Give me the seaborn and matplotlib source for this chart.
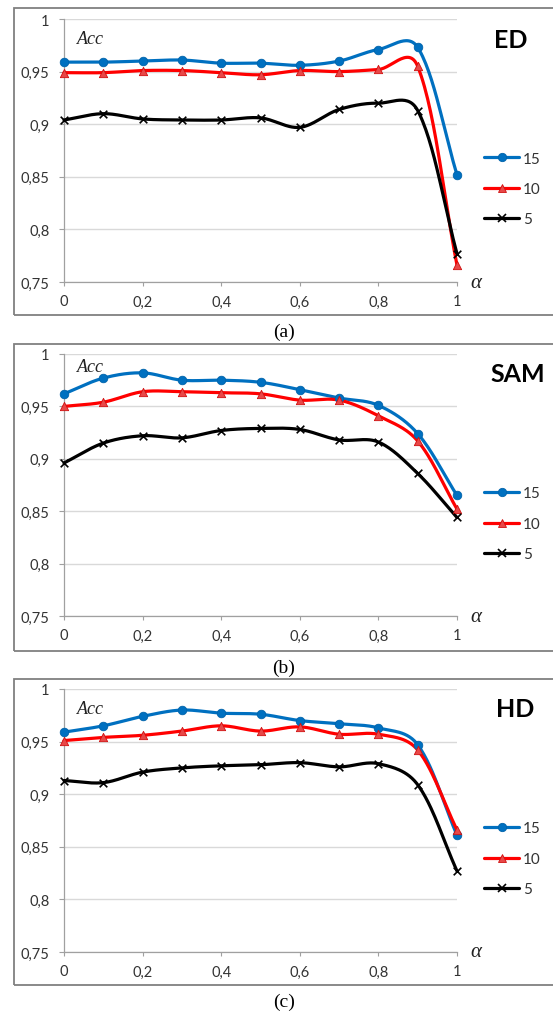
import numpy as np
import pandas as pd
import matplotlib
matplotlib.use("Agg")
import matplotlib.pyplot as plt
import seaborn as sns
from matplotlib.patches import Rectangle
from matplotlib.lines import Line2D

# ---------------- data ----------------
alpha_vals = [0.0, 0.1, 0.2, 0.3, 0.4, 0.5, 0.6, 0.7, 0.8, 0.9, 1.0]
series_labels = ["15", "10", "5"]

ed_15 = [0.959, 0.959, 0.960, 0.961, 0.958, 0.958, 0.956, 0.960, 0.971, 0.973, 0.852]
ed_10 = [0.949, 0.949, 0.951, 0.951, 0.949, 0.947, 0.951, 0.950, 0.952, 0.955, 0.766]
ed_5 = [0.904, 0.910, 0.905, 0.904, 0.904, 0.906, 0.897, 0.914, 0.920, 0.913, 0.777]

sam_15 = [0.962, 0.977, 0.982, 0.975, 0.975, 0.973, 0.966, 0.958, 0.951, 0.924, 0.865]
sam_10 = [0.950, 0.954, 0.964, 0.964, 0.963, 0.962, 0.956, 0.956, 0.941, 0.917, 0.852]
sam_5 = [0.896, 0.915, 0.922, 0.920, 0.927, 0.929, 0.928, 0.918, 0.916, 0.886, 0.844]

hd_15 = [0.959, 0.965, 0.974, 0.980, 0.977, 0.976, 0.970, 0.967, 0.963, 0.947, 0.861]
hd_10 = [0.951, 0.954, 0.956, 0.960, 0.965, 0.960, 0.964, 0.957, 0.957, 0.942, 0.866]
hd_5 = [0.913, 0.911, 0.921, 0.925, 0.927, 0.928, 0.930, 0.926, 0.929, 0.909, 0.827]

panel_titles = ["ED", "SAM", "HD"]
panel_captions = ["(a)", "(b)", "(c)"]
x_ticks = [0, 0.2, 0.4, 0.6, 0.8, 1.0]
x_ticklabels = ["0", "0,2", "0,4", "0,6", "0,8", "1"]
y_ticks = [0.75, 0.80, 0.85, 0.90, 0.95, 1.0]
y_ticklabels = ["0,75", "0,8", "0,85", "0,9", "0,95", "1"]

panel_data = [(ed_15, ed_10, ed_5), (sam_15, sam_10, sam_5), (hd_15, hd_10, hd_5)]

# ---------------- style ----------------
sns.set_style("white")
plt.rcParams["font.family"] = ["Lato", "DejaVu Sans"]

W, H = 553, 1012
fig = plt.figure(figsize=(W / 100, H / 100), dpi=100)


def fx(px):
    return px / W


def fy(py):
    return 1 - py / H


def smooth(x, y, sx, sy, n=30):
    """Excel-like smoothed path (partly length-weighted Bezier), computed in pixel space."""
    P = np.column_stack([np.asarray(x, float), np.asarray(y, float)])
    S = np.array([sx, sy])
    Q = P * S
    m = len(Q)
    d = np.linalg.norm(np.diff(Q, axis=0), axis=1)
    T = np.zeros_like(Q)
    T[0] = Q[1] - Q[0]
    T[-1] = Q[-1] - Q[-2]
    for i in range(1, m - 1):
        T[i] = Q[i + 1] - Q[i - 1]
    out = []
    for i in range(m - 1):
        p1, p2 = Q[i], Q[i + 1]
        if i == 0:
            c1 = p1 + T[0] / 3
        else:
            w = 0.5 / 6 + 0.5 * d[i] / (d[i - 1] + d[i]) / 3
            c1 = p1 + T[i] * w
        if i == m - 2:
            c2 = p2 - T[-1] / 3
        else:
            w = 0.5 / 6 + 0.5 * d[i] / (d[i] + d[i + 1]) / 3
            c2 = p2 - T[i + 1] * w
        t = np.linspace(0, 1, n, endpoint=(i == m - 2))[:, None]
        b = (1 - t) ** 3 * p1 + 3 * (1 - t) ** 2 * t * c1 + 3 * (1 - t) * t ** 2 * c2 + t ** 3 * p2
        out.append(b)
    return np.vstack(out) / S


colors = ["#0070C0", "#FF0000", "#000000"]
markers = ["o", "^", "x"]
mfc = ["#0070C0", "#E84848", "#000000"]
mec = ["#0063AA", "#D01010", "#000000"]
msize = [38, 36, 30]

tops = [20, 355, 690]
bottoms = [283, 617, 953]
box_tops = [9, 345, 680]
box_bottoms = [316, 652, 986]
caption_y = [332, 668, 1002]
acc_y = [40, 368, 710]
title_x = [494, 490, 496]
axis_color = "#A0A0A0"
text_color = "#333333"

for k in range(3):
    top, bot = tops[k], bottoms[k]
    # border box
    fig.patches.append(Rectangle((fx(14), fy(box_bottoms[k])), fx(600) - fx(14),
                                 fy(box_tops[k]) - fy(box_bottoms[k]),
                                 transform=fig.transFigure, fill=False,
                                 edgecolor="#808080", lw=1.3, zorder=0))
    ax = fig.add_axes([fx(64), fy(bot), fx(457) - fx(64), fy(top) - fy(bot)])
    ax.set_facecolor("none")
    sx = 457 - 64
    sy = (bot - top) / 0.25
    handles = []
    for s in range(3):
        yv = panel_data[k][s]
        curve = smooth(alpha_vals, yv, sx, sy)
        dfc = pd.DataFrame({"x": curve[:, 0], "y": curve[:, 1]})
        sns.lineplot(data=dfc, x="x", y="y", ax=ax, sort=False, color=colors[s],
                     lw=2.3, zorder=3 + s, clip_on=False)
        dfp = pd.DataFrame({"x": alpha_vals, "y": yv})
        if markers[s] == "x":
            sns.scatterplot(data=dfp, x="x", y="y", ax=ax, marker="x", s=msize[s],
                            color=colors[s], linewidth=1.2, zorder=6 + s, clip_on=False)
        else:
            sns.scatterplot(data=dfp, x="x", y="y", ax=ax, marker=markers[s], s=msize[s],
                            color=mfc[s], edgecolor=mec[s], linewidth=0.6,
                            zorder=6 + s, clip_on=False)
        handles.append(Line2D([], [], color=colors[s], lw=2.3, marker=markers[s],
                              markersize=6 if s < 2 else 5.5, markerfacecolor=mfc[s],
                              markeredgecolor=mec[s], markeredgewidth=0.6 if s < 2 else 1.2))
    ax.set_xlim(0, 1)
    ax.set_ylim(0.75, 1.0)
    ax.set_xticks(x_ticks)
    ax.set_xticklabels(x_ticklabels)
    ax.set_yticks(y_ticks)
    ax.set_yticklabels(y_ticklabels)
    ax.set_xlabel("")
    ax.set_ylabel("")
    ax.yaxis.grid(True, color="#D9D9D9", lw=1.0)
    ax.xaxis.grid(False)
    ax.set_axisbelow(True)
    for sp in ["top", "right"]:
        ax.spines[sp].set_visible(False)
    for sp in ["left", "bottom"]:
        ax.spines[sp].set_color(axis_color)
        ax.spines[sp].set_linewidth(0.9)
    ax.tick_params(axis="y", length=3.6, width=0.8, color=axis_color, pad=7,
                   labelsize=10.5, labelcolor=text_color, left=True)
    ax.tick_params(axis="x", length=3.0, width=0.8, color=axis_color, pad=6,
                   labelsize=10.5, labelcolor=text_color, bottom=True)

    leg = ax.legend(handles, series_labels, loc="center left",
                    bbox_to_anchor=(fx(484), fy(top + 170)), bbox_transform=fig.transFigure,
                    frameon=False, fontsize=11, handlelength=2.3, handletextpad=0.25,
                    labelspacing=1.08, borderpad=0, borderaxespad=0)
    for t in leg.get_texts():
        t.set_color(text_color)

    fig.text(fx(77), fy(acc_y[k]), "Acc", family=["Liberation Serif"], style="italic",
             fontsize=13, va="center", ha="left", color="#222222")
    fig.text(fx(title_x[k]), fy(top + 20), panel_titles[k], fontsize=18, weight="bold",
             va="center", ha="left", color="#000000")
    fig.text(fx(470), fy(bot), "α", family=["Liberation Serif"], style="italic",
             fontsize=15, va="center", ha="left", color="#222222")
    fig.text(fx(284), fy(caption_y[k]), panel_captions[k], family=["Liberation Serif"],
             fontsize=14, va="center", ha="center", color="#000000")

fig.savefig("out.png", dpi=100)
